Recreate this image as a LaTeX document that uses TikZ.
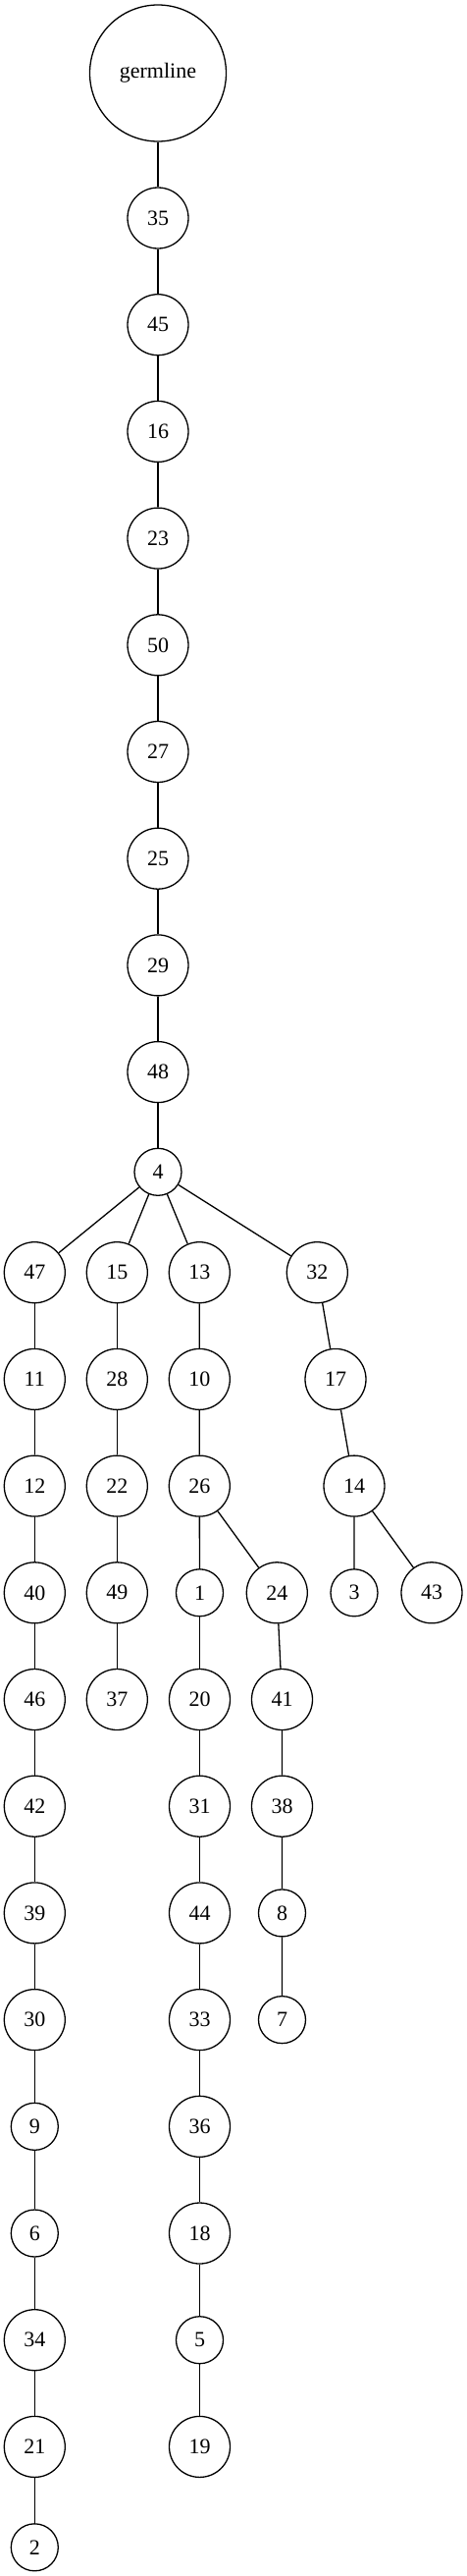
\documentclass[tikz,border=0pt]{standalone}
\usepackage{fontspec}
\setmainfont{Liberation Serif}
\begin{document}
\begin{tikzpicture}[x=1pt,y=-1pt,
  nd/.style={circle,draw,line width=1.3pt,inner sep=0pt,minimum size=62pt,font=\fontsize{22}{24}\selectfont},
  sm/.style={nd,minimum size=48pt},
  big/.style={nd,minimum size=139pt},
  ed/.style={line width=1.3pt}]
\useasboundingbox (0,0) rectangle (475,2623);
\node[big] (g) at (161,74.5) {germline};
\node[nd] (n35) at (161,222) {35};
\node[nd] (n45) at (161,330.7) {45};
\node[nd] (n16) at (161,439.4) {16};
\node[nd] (n23) at (161,548.1) {23};
\node[nd] (n50) at (161,656.8) {50};
\node[nd] (n27) at (161,765.5) {27};
\node[nd] (n25) at (161,874.2) {25};
\node[nd] (n29) at (161,982.9) {29};
\node[nd] (n48) at (161,1091.6) {48};
\node[sm] (n4) at (161,1193.3) {4};
% row A
\node[nd] (n47) at (35.3,1295.7) {47};
\node[nd] (n15) at (119.3,1295.7) {15};
\node[nd] (n13) at (203.3,1295.7) {13};
\node[nd] (n32) at (323.3,1295.7) {32};
% row B
\node[nd] (n11) at (35.3,1404.4) {11};
\node[nd] (n28) at (119.3,1404.4) {28};
\node[nd] (n10) at (203.3,1404.4) {10};
\node[nd] (n17) at (342,1404.4) {17};
% row C
\node[nd] (n12) at (35.3,1513.1) {12};
\node[nd] (n22) at (119.3,1513.1) {22};
\node[nd] (n26) at (203.3,1513.1) {26};
\node[nd] (n14) at (361,1513.1) {14};
% row D
\node[nd] (n40) at (35.3,1621.8) {40};
\node[nd] (n49) at (119.3,1621.8) {49};
\node[sm] (n1) at (203.5,1621.8) {1};
\node[nd] (n24) at (282.3,1621.8) {24};
\node[sm] (n3) at (361,1621.8) {3};
\node[nd] (n43) at (440,1621.8) {43};
% row E
\node[nd] (n46) at (35.3,1730.5) {46};
\node[nd] (n37) at (119.3,1730.5) {37};
\node[nd] (n20) at (203.5,1730.5) {20};
\node[nd] (n41) at (287.5,1730.5) {41};
% row F
\node[nd] (n42) at (35.3,1839.2) {42};
\node[nd] (n31) at (203.5,1839.2) {31};
\node[nd] (n38) at (287.5,1839.2) {38};
% row G
\node[nd] (n39) at (35.3,1947.9) {39};
\node[nd] (n44) at (203.5,1947.9) {44};
\node[sm] (n8) at (287.5,1947.9) {8};
% row H
\node[nd] (n30) at (35.3,2056.6) {30};
\node[nd] (n33) at (203.5,2056.6) {33};
\node[sm] (n7) at (287.5,2056.6) {7};
% row I
\node[sm] (n9) at (35.3,2165.3) {9};
\node[nd] (n36) at (203.5,2165.3) {36};
% row J
\node[sm] (n6) at (35.3,2274) {6};
\node[nd] (n18) at (203.5,2274) {18};
% row K
\node[nd] (n34) at (35.3,2382.7) {34};
\node[sm] (n5) at (203.5,2382.7) {5};
% row L
\node[nd] (n21) at (35.3,2491.4) {21};
\node[nd] (n19) at (203.5,2491.4) {19};
% row M
\node[sm] (n2) at (35.3,2593.8) {2};
% edges
\draw[ed] (g)--(n35) (n35)--(n45) (n45)--(n16) (n16)--(n23) (n23)--(n50) (n50)--(n27) (n27)--(n25) (n25)--(n29) (n29)--(n48) (n48)--(n4);
\draw[ed] (n4)--(n47) (n4)--(n15) (n4)--(n13) (n4)--(n32);
\draw[ed] (n47)--(n11) (n11)--(n12) (n12)--(n40) (n40)--(n46) (n46)--(n42) (n42)--(n39) (n39)--(n30) (n30)--(n9) (n9)--(n6) (n6)--(n34) (n34)--(n21) (n21)--(n2);
\draw[ed] (n15)--(n28) (n28)--(n22) (n22)--(n49) (n49)--(n37);
\draw[ed] (n13)--(n10) (n10)--(n26) (n26)--(n1) (n26)--(n24);
\draw[ed] (n1)--(n20) (n20)--(n31) (n31)--(n44) (n44)--(n33) (n33)--(n36) (n36)--(n18) (n18)--(n5) (n5)--(n19);
\draw[ed] (n24)--(n41) (n41)--(n38) (n38)--(n8) (n8)--(n7);
\draw[ed] (n32)--(n17) (n17)--(n14) (n14)--(n3) (n14)--(n43);
\end{tikzpicture}
\end{document}
